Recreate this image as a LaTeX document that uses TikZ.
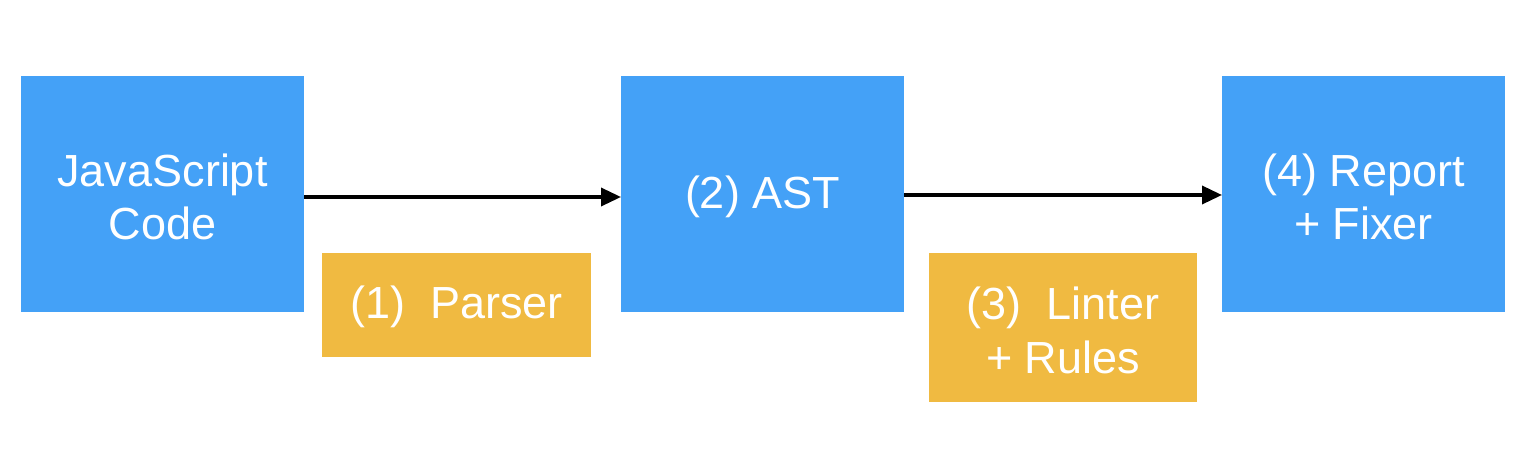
\documentclass[tikz,border=0pt]{standalone}
\usepackage{fontspec}
\setmainfont{Liberation Sans}
\usetikzlibrary{arrows.meta}
\definecolor{boxblue}{HTML}{44A1F7}
\definecolor{boxorange}{HTML}{F0BA41}
\begin{document}
\begin{tikzpicture}[x=1pt,y=-1pt,
  lbl/.style={text=white,align=center,font=\fontsize{45}{53}\selectfont},
  conn/.style={line width=3.5pt,-{Triangle[length=20pt,width=18pt]}}]
\useasboundingbox (0,0) rectangle (1536,449);
\fill[white] (0,0) rectangle (1536,449);
\fill[boxblue] (21,76) rectangle (304,312);
\node[lbl] (js) at (162.5,197) {JavaScript\\Code};
\coordinate (jsE) at (304,197);
\fill[boxblue] (621,76) rectangle (904,312);
\node[lbl] (ast) at (762.5,197) {(2) AST};
\coordinate (astW) at (621,197);
\coordinate (astE) at (904,195);
\fill[boxblue] (1222,76) rectangle (1505,312);
\node[lbl] (rep) at (1363.5,197) {(4) Report\\+ Fixer};
\coordinate (repW) at (1222,195);
\fill[boxorange] (322,253) rectangle (591,357);
\node[lbl] (parser) at (456.5,307) {(1)\ \ Parser};
\fill[boxorange] (929,253) rectangle (1197,402);
\node[lbl,font=\fontsize{45}{54}\selectfont] (linter) at (1063,330) {(3)\ \ Linter\\+ Rules};
\draw[conn] (jsE) -- (astW);
\draw[conn] (astE) -- (repW);
\end{tikzpicture}
\end{document}
